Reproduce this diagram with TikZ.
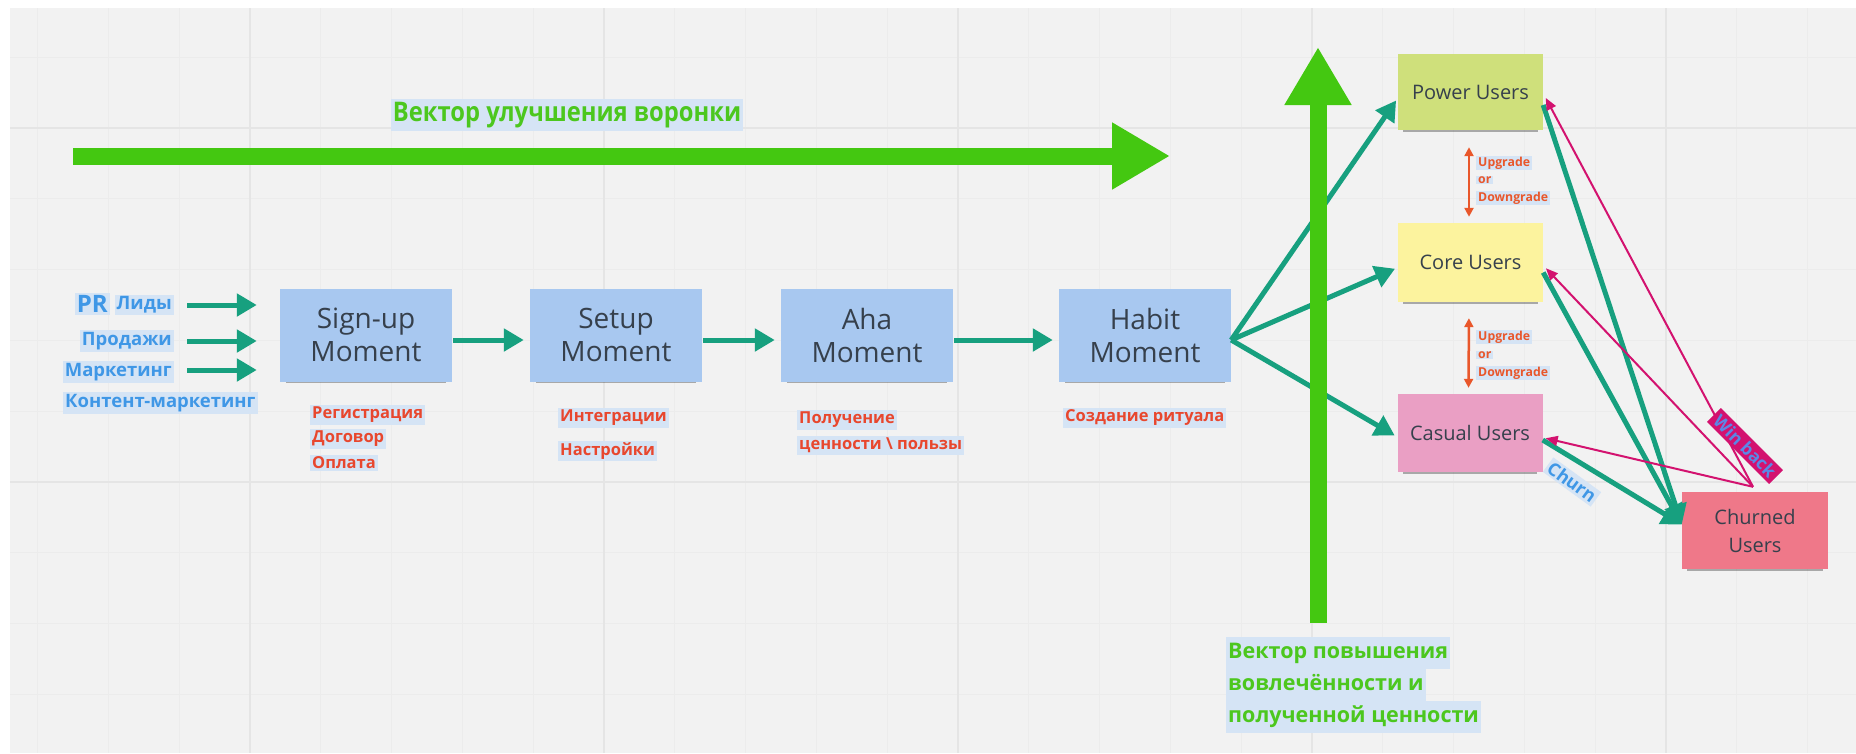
\documentclass[tikz,border=0pt]{standalone}
\usepackage{fontspec}
\setmainfont{Open Sans}
\newfontfamily\condfont[FakeStretch=0.88]{Open Sans}
\usetikzlibrary{arrows.meta,shadows}
\definecolor{bggray}{HTML}{F2F2F2}
\definecolor{gridminor}{HTML}{ECECEC}
\definecolor{gridmajor}{HTML}{E5E5E5}
\definecolor{boxblue}{HTML}{A8C8F0}
\definecolor{txt}{HTML}{36404C}
\definecolor{tealc}{HTML}{17A07F}
\definecolor{bright}{HTML}{44C811}
\definecolor{lblgreen}{HTML}{4CC71E}
\definecolor{hlblue}{HTML}{D5E4F5}
\definecolor{lblred}{HTML}{E8472E}
\definecolor{lblblue}{HTML}{3F97E6}
\definecolor{powerc}{HTML}{CFE07B}
\definecolor{corec}{HTML}{FCF39E}
\definecolor{casualc}{HTML}{EA9FC4}
\definecolor{churnc}{HTML}{EF7889}
\definecolor{magc}{HTML}{D3126F}
\definecolor{upc}{HTML}{E9572B}
\definecolor{winblue}{HTML}{5A88E6}
\tikzset{
  sticky/.style={drop shadow={shadow xshift=0pt,shadow yshift=-5pt,shadow scale=0.93,fill=black,opacity=0.3}},
  moment/.style={rectangle,fill=boxblue,minimum width=172pt,minimum height=93pt,inner sep=0pt,
    text=txt,align=center,font=\fontsize{28}{33}\selectfont,sticky},
  userbox/.style={rectangle,minimum width=145pt,inner sep=0pt,text=txt,align=center,
    font=\fontsize{20}{28}\selectfont,sticky},
  hl/.style={fill=hlblue,inner xsep=2pt,inner ysep=2pt},
  redlbl/.style={hl,text=lblred,anchor=west,font=\fontsize{16.5}{20}\selectfont\bfseries},
  bluelbl/.style={hl,text=lblblue,font=\fontsize{18.5}{22}\selectfont\bfseries},
  greenlbl/.style={fill=hlblue,inner xsep=2pt,inner ysep=5.5pt,text height=16pt,text depth=5pt,
    anchor=west,text=lblgreen,font=\fontsize{21.5}{26}\selectfont\bfseries},
  updlbl/.style={hl,inner ysep=1pt,anchor=west,text=upc,font=\fontsize{12.3}{15}\selectfont\bfseries},
  tarrow/.style={draw=tealc,line width=5pt,-{Triangle[length=20pt,width=22pt]}},
  magarrow/.style={draw=magc,line width=2pt,-{Triangle[length=12pt,width=10pt]}},
  updown/.style={draw=upc,line width=2.5pt,{Triangle[length=9pt,width=9pt]}-{Triangle[length=9pt,width=9pt]}},
  bigarrow/.style={draw=bright,line width=17pt,-{Triangle[length=58pt,width=63pt]}},
  minorgrid/.style={draw=gridminor,line width=1pt},
  majorgrid/.style={draw=gridmajor,line width=1.5pt}
}
\begin{document}
\begin{tikzpicture}[x=1pt,y=-1pt]
\useasboundingbox (0,0) rectangle (1856,753);
\fill[white] (0,0) rectangle (1856,753);
\fill[bggray] (10,8) rectangle (1856,753);
\begin{scope}
\clip (10,8) rectangle (1856,753);
\foreach \i in {-4,...,23}{\draw[minorgrid] ({250+70.8*\i},8) -- ({250+70.8*\i},753);}
\foreach \i in {-2,...,9}{\draw[minorgrid] (10,{128+70.8*\i}) -- (1856,{128+70.8*\i});}
\foreach \i in {0,...,4}{\draw[majorgrid] ({250+354*\i},8) -- ({250+354*\i},753);}
\foreach \i in {0,1}{\draw[majorgrid] (10,{128+354*\i}) -- (1856,{128+354*\i});}
\end{scope}

% moment boxes
\node[moment] (signup) at (366,335) {Sign-up\\Moment};
\node[moment] (setup) at (616,335) {Setup\\Moment};
\node[moment] (aha) at (867,335) {Aha\\Moment};
\node[moment] (habit) at (1145,335) {Habit\\Moment};

% user boxes
\node[userbox,fill=powerc,minimum height=76pt] (power) at (1470.5,92) {Power Users};
\node[userbox,fill=corec,minimum height=79pt] (core) at (1470.5,262.5) {Core Users};
\node[userbox,fill=casualc,minimum height=78pt] (casual) at (1470,433) {Casual Users};
\node[userbox,fill=churnc,minimum width=146pt,minimum height=77pt] (churned) at (1755,530.5) {Churned\\Users};

% left labels
\node[bluelbl,anchor=east,font=\fontsize{24}{28}\selectfont\bfseries] (pr) at (110,304) {PR};
\node[bluelbl,anchor=east] (lid) at (174,305) {Лиды};
\node[bluelbl,anchor=east] (prod) at (174,341) {Продажи};
\node[bluelbl,anchor=east] (mark) at (174,372) {Маркетинг};
\node[bluelbl,anchor=west] (kont) at (63,403) {Контент-маркетинг};

% left arrows
\draw[tarrow,shorten <=13pt,shorten >=23pt] (lid.east) -- (lid.east -| signup.west);
\draw[tarrow,shorten <=13pt,shorten >=23pt] (prod.east) -- (prod.east -| signup.west);
\draw[tarrow,shorten <=13pt,shorten >=23pt] ([yshift=2pt]mark.east) -- ([yshift=2pt]mark.east -| signup.west);

% chain arrows
\draw[tarrow,shorten <=1pt,shorten >=6pt] ([yshift=-5pt]signup.east) -- ([yshift=-5pt]setup.west);
\draw[tarrow,shorten <=1pt,shorten >=6pt] ([yshift=-5pt]setup.east) -- ([yshift=-5pt]aha.west);
\draw[tarrow,shorten <=1pt,shorten >=6pt] ([yshift=-5pt]aha.east) -- ([yshift=-5pt]habit.west);

% red labels
\node[redlbl] (reg) at (310,415) {Регистрация};
\node[redlbl] (dog) at (310,439) {Договор};
\node[redlbl] (opl) at (310,463) {Оплата};
\node[redlbl] (integ) at (558,418) {Интеграции};
\node[redlbl] (nastr) at (558,451) {Настройки};
\node[redlbl] (poluch) at (797,420) {Получение};
\node[redlbl] (cenn) at (797,445) {ценности \textbackslash{} пользы};
\node[redlbl] (ritual) at (1063,418) {Создание ритуала};

% habit to users
\draw[tarrow,shorten >=3pt] ([yshift=-5pt]habit.east) -- ([yshift=-6pt]power.west);
\draw[tarrow,shorten >=3pt] ([yshift=-5pt]habit.east) -- ([yshift=-5pt]core.west);
\draw[tarrow,shorten >=3pt] ([yshift=-5pt]habit.east) -- ([yshift=-4pt]casual.west);

% big green arrows
\coordinate (hs) at (73,156);
\coordinate (he) at (1170,156);
\draw[bigarrow] (hs) -- (he);
\coordinate (vs) at (1318,623);
\coordinate (ve) at (1318,47);
\draw[bigarrow] (vs) -- (ve);
\node[fill=hlblue,inner xsep=2pt,inner ysep=3pt,text=lblgreen,font=\fontsize{27}{30}\selectfont\condfont\bfseries] (vecf) at (567,115) {Вектор улучшения воронки};

% vertical label
\node[greenlbl] (vl1) at (1226,653) {Вектор повышения};
\node[greenlbl] (vl2) at (1226,685) {вовлечённости и};
\node[greenlbl] (vl3) at (1226,717) {полученной ценности};

% upgrade / downgrade
\draw[updown,shorten <=17pt,shorten >=6pt] ([xshift=-1.5pt]power.south) -- ([xshift=-1.5pt]core.north);
\draw[updown,shorten <=16pt,shorten >=6pt] ([xshift=-1.5pt]core.south) -- ([xshift=-1.5pt]casual.north);
\node[updlbl] (up1) at (1476,163) {Upgrade};
\node[updlbl] (or1) at (1476,180) {or};
\node[updlbl] (dn1) at (1476,198) {Downgrade};
\node[updlbl] (up2) at (1476,337) {Upgrade};
\node[updlbl] (or2) at (1476,355) {or};
\node[updlbl] (dn2) at (1476,373) {Downgrade};

% churn arrows
\draw[tarrow] ([yshift=-13pt]power.east) -- ([yshift=6pt]churned.west);
\draw[tarrow] ([yshift=-10pt]core.east) -- ([yshift=6pt]churned.west);
\draw[tarrow] ([yshift=-7pt]casual.east) -- ([yshift=6pt]churned.west);

% win back arrows
\draw[magarrow,shorten >=1pt] ([xshift=-2pt,yshift=5pt]churned.north) -- ([xshift=2pt,yshift=-5pt]power.east);
\draw[magarrow,shorten >=1pt] ([xshift=-2pt,yshift=5pt]churned.north) -- ([xshift=2pt,yshift=-5pt]core.east);
\draw[magarrow,shorten >=1pt] ([xshift=-2pt,yshift=5pt]churned.north) -- ([xshift=2pt,yshift=-5pt]casual.east);

\node[fill=magc,text=winblue,inner xsep=4pt,inner ysep=3pt,rotate=-45,font=\fontsize{17.5}{20}\selectfont\bfseries] (winback) at (1745,446) {Win back};
\node[hl,text=lblblue,rotate=-36,font=\fontsize{18}{21}\selectfont\bfseries] (churnlbl) at (1572,482) {Churn};
\end{tikzpicture}
\end{document}
